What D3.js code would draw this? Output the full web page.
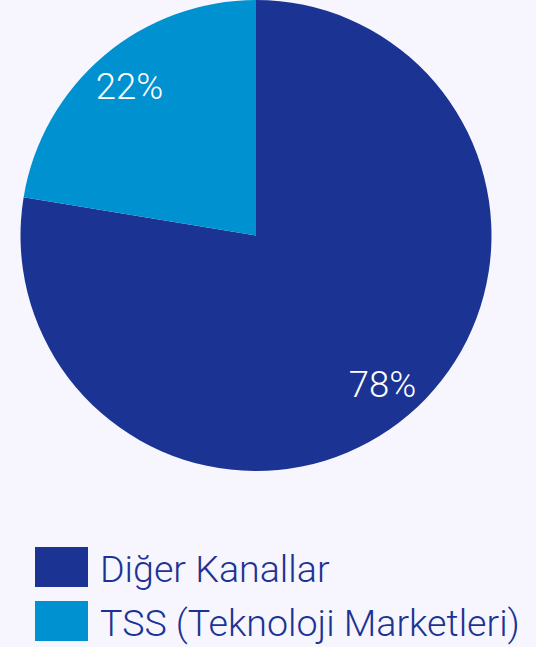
<!DOCTYPE html>
<html>
<head>
<meta charset="utf-8">
<script src="https://cdn.jsdelivr.net/npm/d3@7"></script>
<style>
  html, body { margin: 0; padding: 0; background: #f7f6fe; }
  svg { display: block; font-family: Roboto, sans-serif; }
</style>
</head>
<body>
<div id="chart"></div>
<script>
// chart data (slice sizes, labels are rounded)
var categories = ["Diğer Kanallar", "TSS (Teknoloji Marketleri)"];
var values = [77.6, 22.4];
var colors = ["#1b3494", "#0091d0"];

var width = 536, height = 647;
var cx = 256, cy = 235.5, radius = 235.5;

var svg = d3.select("#chart").append("svg")
  .attr("width", width)
  .attr("height", height);

var data = categories.map(function(c, i) { return {name: c, value: values[i], color: colors[i]}; });

var pie = d3.pie().sort(null).value(function(d) { return d.value; });
var arc = d3.arc().innerRadius(0).outerRadius(radius);
var labelArc = d3.arc().innerRadius(radius * 0.83).outerRadius(radius * 0.83);

var g = svg.append("g").attr("transform", "translate(" + cx + "," + cy + ")");

var arcs = pie(data);

g.selectAll("path")
  .data(arcs)
  .enter().append("path")
  .attr("d", arc)
  .attr("fill", function(d) { return d.data.color; });

g.selectAll("text")
  .data(arcs)
  .enter().append("text")
  .attr("transform", function(d) { return "translate(" + labelArc.centroid(d) + ")"; })
  .attr("text-anchor", "middle")
  .attr("dy", "0.35em")
  .attr("fill", "#fff")
  .style("font-size", "36.5px")
  .style("font-weight", 300)
  .text(function(d) { return Math.round(d.data.value) + "%"; });

// legend
var legend = svg.append("g").attr("transform", "translate(35,547)");
var item = legend.selectAll("g")
  .data(data)
  .enter().append("g")
  .attr("transform", function(d, i) { return "translate(0," + (i * 54) + ")"; });

item.append("rect")
  .attr("width", 53)
  .attr("height", 40)
  .attr("fill", function(d) { return d.color; });

item.append("text")
  .attr("x", 65)
  .attr("y", 35)
  .attr("fill", "#1b3494")
  .style("font-size", "37.6px")
  .style("font-weight", 300)
  .text(function(d) { return d.name; });
</script>
</body>
</html>
